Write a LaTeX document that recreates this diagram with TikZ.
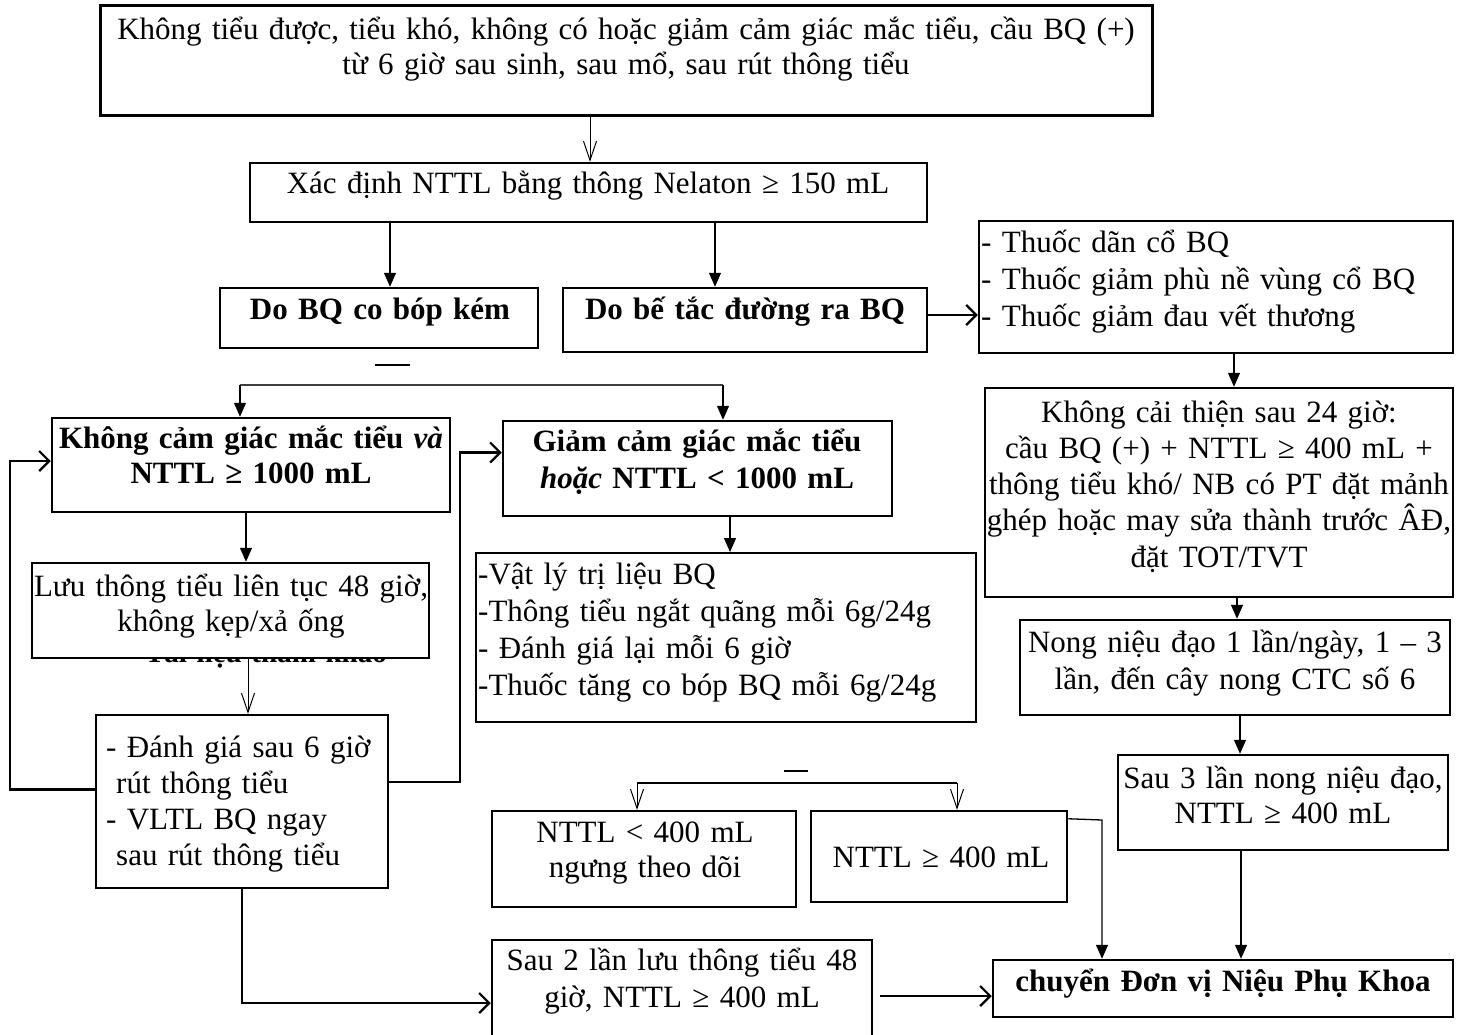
\documentclass[tikz,border=0pt]{standalone}
\usepackage{fontspec}
\setmainfont{Liberation Serif}
\usetikzlibrary{arrows.meta,calc}
\begin{document}
\begin{tikzpicture}[x=1pt,y=-1pt,
  box/.style={draw,line width=2.5pt,fill=white,inner sep=0pt,rectangle},
  ctext/.style={inner sep=0pt,align=center,text width=#1,anchor=base,font=\fontsize{31}{35}\selectfont},
  ltext/.style={inner sep=0pt,align=left,text width=#1,anchor=base west,font=\fontsize{31}{37}\selectfont},
  conn/.style={line width=1.3pt},
  filled/.style={line width=1.3pt,-{Triangle[length=14pt,width=12pt]}},
  openv/.style={line width=1pt,-{Straight Barb[length=19pt,width=13pt,line width=1pt]}},
  heavy/.style={line width=2.5pt,-{Straight Barb[length=10pt,width=20pt,line width=2.2pt]}},
]
\useasboundingbox (0,0) rectangle (1467,1034);

% partly hidden text behind a box
\node[ctext=400pt,font=\bfseries\fontsize{29}{33}\selectfont] (tl) at (266,662) {Tài liệu tham khảo};

% boxes
\node[box,line width=3pt,minimum width=1052pt,minimum height=110pt] (top) at (626,60) {};
\node[box,minimum width=677pt,minimum height=59pt] (xac) at (588.5,192.5) {};
\node[box,minimum width=318pt,minimum height=60pt] (dobq) at (379,318) {};
\node[box,minimum width=364pt,minimum height=64pt] (dobt) at (745,320) {};
\node[box,minimum width=474pt,minimum height=132pt] (thuoc) at (1216,287) {};
\node[box,minimum width=468pt,minimum height=209pt] (kci) at (1219,492.5) {};
\node[box,minimum width=430pt,minimum height=95pt] (nong) at (1235,667.5) {};
\node[box,minimum width=330pt,minimum height=95pt] (sau3) at (1283,802.5) {};
\node[box,minimum width=460pt,minimum height=57pt] (chuyen) at (1223,988.5) {};
\node[box,minimum width=398pt,minimum height=94pt] (kcam) at (251,465) {};
\node[box,minimum width=389pt,minimum height=95pt] (gcam) at (697.5,468.5) {};
\node[box,minimum width=397pt,minimum height=95pt] (luu) at (230.5,610.5) {};
\node[box,minimum width=292pt,minimum height=173pt] (dg) at (242,801.5) {};
\node[box,line width=2pt,minimum width=500pt,minimum height=169pt] (vl) at (726,637.5) {};
\node[box,minimum width=304pt,minimum height=96pt] (na) at (644,859) {};
\node[box,minimum width=256pt,minimum height=91pt] (nb) at (939,856.5) {};
\node[box,minimum width=380pt,minimum height=100pt] (sau2) at (682,990) {};

% texts
\node[ctext=1100pt] (ttop) at (626,39) {Không tiểu được, tiểu khó, không có hoặc giảm cảm giác mắc tiểu, cầu BQ (+)\\từ 6 giờ sau sinh, sau mổ, sau rút thông tiểu};
\node[ctext=700pt] (txac) at (588,193) {Xác định NTTL bằng thông Nelaton ≥ 150 mL};
\node[ctext=400pt,font=\bfseries\fontsize{31}{35}\selectfont] (tdobq) at (380,319) {Do BQ co bóp kém};
\node[ctext=400pt,font=\bfseries\fontsize{31}{35}\selectfont] (tdobt) at (745,319) {Do bế tắc đường ra BQ};
\node[ltext=500pt] (tthuoc) at (981,252) {- Thuốc dãn cổ BQ\\- Thuốc giảm phù nề vùng cổ BQ\\- Thuốc giảm đau vết thương};
\node[ctext=520pt,font=\fontsize{31}{36.3}\selectfont] (tkci) at (1219,422) {Không cải thiện sau 24 giờ:\\cầu BQ (+) + NTTL ≥ 400 mL +\\thông tiểu khó/ NB có PT đặt mảnh\\ghép hoặc may sửa thành trước ÂĐ,\\đặt TOT/TVT};
\node[ctext=500pt,font=\fontsize{31}{37}\selectfont] (tnong) at (1235,652) {Nong niệu đạo 1 lần/ngày, 1 – 3\\lần, đến cây nong CTC số 6};
\node[ctext=400pt] (tsau3) at (1283,788) {Sau 3 lần nong niệu đạo,\\NTTL ≥ 400 mL};
\node[ctext=500pt,font=\bfseries\fontsize{31}{35}\selectfont] (tchuyen) at (1223,991) {chuyển Đơn vị Niệu Phụ Khoa};
\node[ctext=450pt,font=\bfseries\fontsize{31}{35}\selectfont] (tkcam) at (251,448) {Không cảm giác mắc tiểu \textit{và}\\NTTL ≥ 1000 mL};
\node[ctext=450pt,font=\bfseries\fontsize{31}{37}\selectfont] (tgcam) at (697,451) {Giảm cảm giác mắc tiểu\\\textit{hoặc} NTTL < 1000 mL};
\node[ctext=450pt] (tluu) at (231,596) {Lưu thông tiểu liên tục 48 giờ,\\không kẹp/xả ống};
\node[ltext=300pt,font=\fontsize{31}{36}\selectfont] (tdg) at (106,757) {- Đánh giá sau 6 giờ\\\hspace*{10pt}rút thông tiểu\\- VLTL BQ ngay\\\hspace*{10pt}sau rút thông tiểu};
\node[ltext=520pt] (tvl) at (478,584) {-Vật lý trị liệu BQ\\-Thông tiểu ngắt quãng mỗi 6g/24g\\- Đánh giá lại mỗi 6 giờ\\-Thuốc tăng co bóp BQ mỗi 6g/24g};
\node[ctext=350pt] (tna) at (645,842) {NTTL < 400 mL\\ngưng theo dõi};
\node[ctext=300pt] (tnb) at (941,867) {NTTL ≥ 400 mL};
\node[ctext=420pt,font=\fontsize{31}{37}\selectfont] (tsau2) at (682,970) {Sau 2 lần lưu thông tiểu 48\\giờ, NTTL ≥ 400 mL};

% helper x positions
\coordinate (x590) at (590,0);
\coordinate (x390) at (390,0);
\coordinate (x715) at (715,0);
\coordinate (x1234) at (1234,0);
\coordinate (x1237) at (1237,0);
\coordinate (x1240) at (1240,0);
\coordinate (x1241) at (1241,0);
\coordinate (x246) at (246,0);
\coordinate (x248) at (248,0);
\coordinate (x730) at (730,0);
\coordinate (x1102) at (1102,0);
\coordinate (x242) at (242,0);
\coordinate (y996) at (0,996);
\coordinate (y315) at (0,315);

% connectors
\draw[openv] (top.south -| x590) -- (xac.north -| x590);
\draw[filled] (xac.south -| x390) -- (dobq.north -| x390);
\draw[filled] (xac.south -| x715) -- (dobt.north -| x715);
\draw[heavy] (dobt.east |- y315) -- (thuoc.west |- y315);
\draw[filled] (thuoc.south -| x1234) -- (kci.north -| x1234);
\draw[filled] (kci.south -| x1237) -- (nong.north -| x1237);
\draw[filled] (nong.south -| x1240) -- (sau3.north -| x1240);
\draw[filled] (sau3.south -| x1241) -- (chuyen.north -| x1241);

% split below "Do BQ co bop kem"
\coordinate (d1a) at (375,365);
\coordinate (d1b) at (410,365);
\draw[line width=1.3pt] (d1a) -- (d1b);
\coordinate (sL) at (240,385);
\coordinate (sR) at (723,385);
\draw[conn,black!75] (sL) -- (sR);
\draw[filled] (sL) -- (sL |- kcam.north);
\draw[filled] (sR) -- (sR |- gcam.north);

\draw[filled] (kcam.south -| x246) -- (luu.north -| x246);
\draw[openv] (luu.south -| x248) -- (dg.north -| x248);
\draw[heavy] ($(dg.west)+(0,-12)$) -- (10,789.5) |- ($(kcam.west)+(0,-4)$);
\draw[heavy] ($(dg.east)+(0,-19.5)$) -- (460,782) |- ($(gcam.west)+(0,-16)$);
\draw[filled] (gcam.south -| x730) -- (vl.north -| x730);

% split above NTTL boxes
\coordinate (d2a) at (784,771);
\coordinate (d2b) at (808,771);
\draw[line width=1.3pt] (d2a) -- (d2b);
\coordinate (tL) at (637,783);
\coordinate (tR) at (957,783);
\draw[conn] (tL) -- (tR);
\draw[openv] (tL) -- (tL |- na.north);
\draw[openv] (tR) -- (tR |- nb.north);

\draw[filled] ($(nb.north east)+(0,9)$) -- (1102,820) -- (chuyen.north -| x1102);
\draw[heavy] (dg.south -| x242) |- ($(sau2.west)+(0,13)$);
\draw[heavy] (sau2.east |- y996) ++(7,0) -- (chuyen.west |- y996);
\end{tikzpicture}
\end{document}
